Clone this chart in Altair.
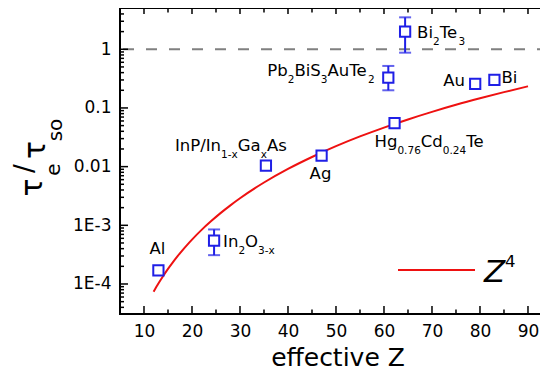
import altair as alt
import pandas as pd

# ---------------- data ----------------
materials = ["Al", "In2O3-x", "InP/InGaAs", "Ag", "Hg0.76Cd0.24Te",
             "Pb2BiS3AuTe2", "Bi2Te3", "Au", "Bi"]
z_eff = [13.0, 24.6, 35.4, 47.0, 62.2, 60.9, 64.4, 79.0, 83.0]
ratio = [1.7e-4, 5.5e-4, 0.0104, 0.0154, 0.055, 0.33, 2.0, 0.256, 0.30]

err_materials = ["In2O3-x", "Pb2BiS3AuTe2", "Bi2Te3"]
err_z = [24.6, 60.9, 64.4]
err_lo = [3.1e-4, 0.20, 0.875]
err_hi = [8.5e-4, 0.52, 3.5]

curve_z = [12, 13, 14, 15, 16, 17, 18, 19, 20, 22, 24, 26, 28, 30, 35, 40, 45,
           50, 55, 60, 65, 70, 75, 80, 85, 90]
curve_ratio = [7.4e-5, 1.02e-4, 1.37e-4, 1.81e-4, 2.34e-4, 2.98e-4, 3.75e-4,
               4.65e-4, 5.71e-4, 8.36e-4, 1.18e-3, 1.63e-3, 2.19e-3, 2.89e-3,
               5.36e-3, 9.14e-3, 0.0146, 0.0223, 0.0327, 0.0463, 0.0637,
               0.0857, 0.113, 0.146, 0.186, 0.234]

x_ticks = [10, 20, 30, 40, 50, 60, 70, 80, 90]
x_minor = [15, 25, 35, 45, 55, 65, 75, 85]
y_ticks = [1e-4, 1e-3, 0.01, 0.1, 1]
y_tick_labels = ["1E-4", "1E-3", "0.01", "0.1", "1"]
y_minor = [m * 10.0 ** e for e in range(-5, 1) for m in range(2, 10)
           if 3.1e-5 < m * 10.0 ** e < 5.0]

# label pieces: (text, is_subscript)
label_parts = {
    "Al": [("Al", 0)],
    "In2O3-x": [("In", 0), ("2", 1), ("O", 0), ("3-x", 1)],
    "InP/InGaAs": [("InP/In", 0), ("1-x", 1), ("Ga", 0), ("x", 1), ("As", 0)],
    "Ag": [("Ag", 0)],
    "Hg0.76Cd0.24Te": [("Hg", 0), ("0.76", 1), ("Cd", 0), ("0.24", 1), ("Te", 0)],
    "Pb2BiS3AuTe2": [("Pb", 0), ("2", 1), ("BiS", 0), ("3", 1), ("AuTe", 0), ("2", 1)],
    "Bi2Te3": [("Bi", 0), ("2", 1), ("Te", 0), ("3", 1)],
    "Au": [("Au", 0)],
    "Bi": [("Bi", 0)],
}
# layout: pixel offset of label start (left, baseline) from its point
label_offset = {
    "Al": (-9, -16), "In2O3-x": (9, 6), "InP/InGaAs": (-91, -15),
    "Ag": (-12, 23), "Hg0.76Cd0.24Te": (-20, 24), "Pb2BiS3AuTe2": (-121, -2),
    "Bi2Te3": (12, 6), "Au": (-32, 2), "Bi": (7, 3),
}

# ---------------- style / layout ----------------
W, H = 428, 306
FONT = "DejaVu Sans"
BLUE = "#1f1fe6"
RED = "#ee1111"
MAIN_FS, SUB_FS, SUB_DY = 16.5, 10.5, 7

# DejaVu Sans advance widths (per 1000 em)
ADV = {' ': 318, '-': 361, '.': 318, '/': 337, 'A': 684, 'B': 686, 'C': 698,
       'G': 775, 'H': 752, 'I': 295, 'O': 787, 'P': 603, 'S': 635, 'T': 611,
       'Z': 685, 'a': 613, 'b': 635, 'd': 635, 'e': 615, 'g': 635, 'i': 278,
       'l': 278, 'n': 634, 's': 521, 'u': 634, 'x': 592}
KERN = {"Te": -85}


def text_width(s, fs):
    w = sum(ADV.get(c, 636) for c in s)
    w += sum(KERN.get(s[i:i + 2], 0) for i in range(len(s) - 1))
    return w * fs / 1000.0


xscale = alt.Scale(domain=[5, 94.17], nice=False, zero=False)
yscale = alt.Scale(type="log", domain=[3.08e-5, 5.05], nice=False)

label_expr = " : ".join(
    f"abs(datum.value - {v}) < {v} * 0.01 ? '{l}'" for v, l in zip(y_ticks, y_tick_labels)
) + " : ''"

XAXIS = alt.Axis(values=x_ticks, title=None, ticks=False, tickSize=0,
                 domain=False, grid=False, labelPadding=9, format="d",
                 labelFont=FONT, labelFontSize=17, labelColor="black")
YAXIS = alt.Axis(values=y_ticks, title=None, ticks=False, tickSize=0,
                 domain=False, grid=False, labelPadding=9, labelExpr=label_expr,
                 labelFont=FONT, labelFontSize=17, labelColor="black")


def X(f):
    return alt.X(f, type="quantitative", scale=xscale, axis=XAXIS)


def Y(f):
    return alt.Y(f, type="quantitative", scale=yscale, axis=YAXIS)


layers = []
pts = pd.DataFrame({"material": materials, "Z": z_eff, "ratio": ratio})

# dashed line at 1
layers.append(alt.Chart(pd.DataFrame({"v": [1.0]})).mark_rule(
    stroke="#808080", strokeWidth=2, strokeDash=[11, 12]).encode(y=Y("v")))


# tick marks (inward)
def xticks(vals, length, top):
    df = pd.DataFrame({"t": vals})
    y0, y1 = (0, length) if top else (H, H - length)
    return alt.Chart(df).mark_rule(color="black", strokeWidth=1.5).encode(
        x=X("t"), y=alt.value(y0), y2=alt.value(y1))


def yticks(vals, length, right):
    df = pd.DataFrame({"t": vals})
    x0, x1 = (W, W - length) if right else (0, length)
    return alt.Chart(df).mark_rule(color="black", strokeWidth=1.5).encode(
        y=Y("t"), x=alt.value(x0), x2=alt.value(x1))


layers += [xticks(x_ticks, 8, False), xticks(x_minor, 4.5, False),
           xticks(x_ticks, 6, True), xticks(x_minor, 4.5, True),
           yticks(y_ticks, 8, False), yticks(y_minor, 4, False),
           yticks(y_ticks, 7, True)]

# Z^4 curve
curve = pd.DataFrame({"Z": curve_z, "ratio": curve_ratio})
layers.append(alt.Chart(curve).mark_line(color=RED, strokeWidth=2,
                                         interpolate="monotone").encode(
    x=X("Z"), y=Y("ratio")))

# error bars
err = pd.DataFrame({"material": err_materials, "Z": err_z, "lo": err_lo, "hi": err_hi})
layers.append(alt.Chart(err).mark_rule(color=BLUE, strokeWidth=2).encode(
    x=X("Z"), y=Y("lo"), y2="hi:Q"))
for col in ["lo", "hi"]:
    layers.append(alt.Chart(err).mark_tick(color=BLUE, thickness=2, size=12,
                                           orient="horizontal").encode(
        x=X("Z"), y=Y(col)))

# squares
layers.append(alt.Chart(pts).mark_point(shape="square", size=105, filled=False,
                                        fill="white", fillOpacity=1, stroke=BLUE,
                                        strokeWidth=2, opacity=1).encode(
    x=X("Z"), y=Y("ratio")))

# point labels with subscripts
for name, z, r in zip(materials, z_eff, ratio):
    dx0, dy0 = label_offset[name]
    cur = dx0
    for txt, sub in label_parts[name]:
        fs = SUB_FS if sub else MAIN_FS
        layers.append(alt.Chart(pd.DataFrame({"Z": [z], "ratio": [r], "t": [txt]}))
                      .mark_text(align="left", baseline="alphabetic", font=FONT,
                                 fontSize=fs, color="black", dx=cur,
                                 dy=dy0 + (SUB_DY if sub else 0))
                      .encode(x=X("Z"), y=Y("ratio"), text="t:N"))
        cur += text_width(txt, fs)

# legend
layers.append(alt.Chart(pd.DataFrame({"a": [0]})).mark_rule(color=RED, strokeWidth=2).encode(
    x=alt.value(278), x2=alt.value(355), y=alt.value(262)))
layers.append(alt.Chart(pd.DataFrame({"t": ["Z"]})).mark_text(
    align="left", baseline="alphabetic", font=FONT, fontSize=31, fontStyle="italic",
    color="black").encode(x=alt.value(364), y=alt.value(274), text="t:N"))
layers.append(alt.Chart(pd.DataFrame({"t": ["4"]})).mark_text(
    align="left", baseline="alphabetic", font=FONT, fontSize=16.5,
    color="black").encode(x=alt.value(385), y=alt.value(259), text="t:N"))

# x title
layers.append(alt.Chart(pd.DataFrame({"t": ["effective Z"]})).mark_text(
    align="center", baseline="alphabetic", font=FONT, fontSize=25,
    color="black").encode(x=alt.value(218), y=alt.value(358), text="t:N"))

# y title pieces (rotated)
ytitle = [("τ", 30, -78, 179.5), ("e", 20, -60, 161.5), ("/", 26, -87, 160.5),
          ("τ", 30, -75, 142), ("so", 20, -58, 122)]
for t, fs, xx, yy in ytitle:
    layers.append(alt.Chart(pd.DataFrame({"t": [t]})).mark_text(
        align="center", baseline="alphabetic", font=FONT, fontSize=fs, angle=270,
        color="black").encode(x=alt.value(xx), y=alt.value(yy), text="t:N"))

chart = alt.layer(*layers).properties(
    width=W, height=H,
    padding={"left": 112, "top": 0, "right": -8, "bottom": 54},
    autosize=alt.AutoSizeParams(type="none"),
).configure_view(stroke="black", strokeWidth=2)

chart.save("out.html", embed_options={"renderer": "svg", "actions": False})
